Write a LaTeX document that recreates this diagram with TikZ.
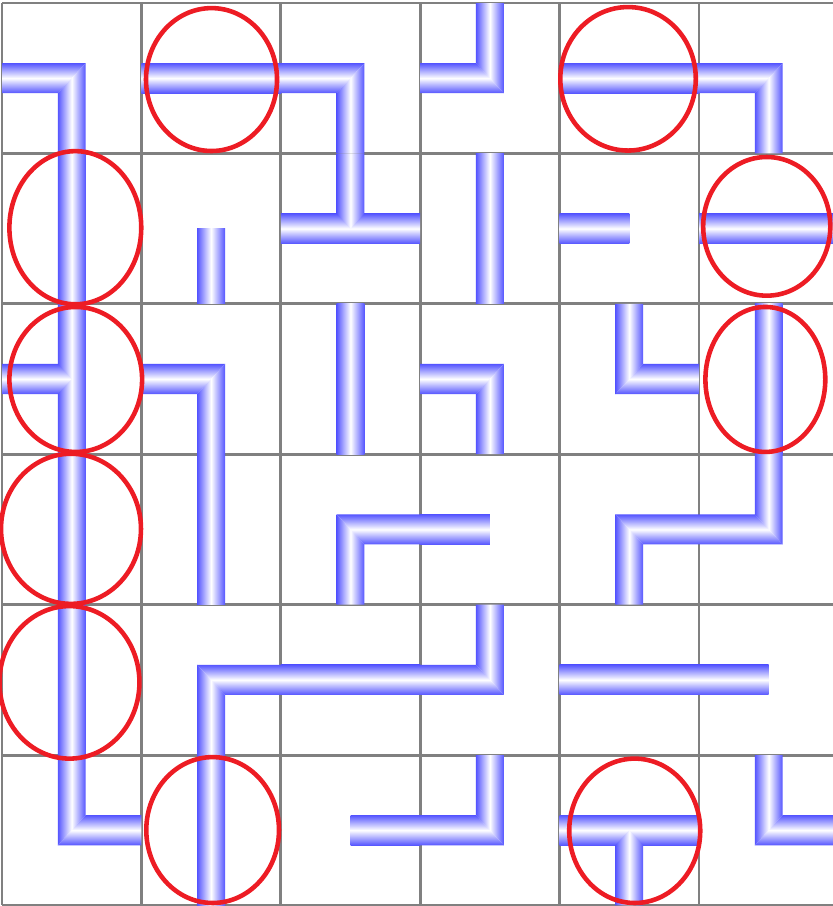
\documentclass[tikz,border=0pt]{standalone}
\definecolor{pipeblue}{RGB}{85,85,255}
\definecolor{ringred}{RGB}{237,28,36}

\begin{document}
\begin{tikzpicture}[x=2.788cm,y=-3.008cm,
  gridline/.style={draw=gray,line width=1.7pt},
  hpipe/.style={top color=pipeblue,bottom color=pipeblue,middle color=white},
  vpipe/.style={left color=pipeblue,right color=pipeblue,middle color=white},
  ring/.style={draw=ringred,line width=2.6pt}]
\def\w{0.1}
\def\WE#1#2{\shade[hpipe] (#1,#2+.5-\w) rectangle (#1+1,#2+.5+\w);}
\def\NS#1#2{\shade[vpipe] (#1+.5-\w,#2) rectangle (#1+.5+\w,#2+1);}
\def\stubW#1#2{\shade[hpipe] (#1,#2+.5-\w) rectangle (#1+.5,#2+.5+\w);}
\def\stubE#1#2{\shade[hpipe] (#1+.5,#2+.5-\w) rectangle (#1+1,#2+.5+\w);}
\def\stubS#1#2{\shade[vpipe] (#1+.5-\w,#2+.5) rectangle (#1+.5+\w,#2+1);}
\def\elbowWS#1#2{
  \shade[hpipe] (#1,#2+.5-\w) -- (#1+.5+\w,#2+.5-\w) -- (#1+.5-\w,#2+.5+\w) -- (#1,#2+.5+\w) -- cycle;
  \shade[vpipe] (#1+.5-\w,#2+1) -- (#1+.5-\w,#2+.5+\w) -- (#1+.5+\w,#2+.5-\w) -- (#1+.5+\w,#2+1) -- cycle;}
\def\elbowWN#1#2{
  \shade[hpipe] (#1,#2+.5-\w) -- (#1+.5-\w,#2+.5-\w) -- (#1+.5+\w,#2+.5+\w) -- (#1,#2+.5+\w) -- cycle;
  \shade[vpipe] (#1+.5-\w,#2) -- (#1+.5-\w,#2+.5-\w) -- (#1+.5+\w,#2+.5+\w) -- (#1+.5+\w,#2) -- cycle;}
\def\elbowES#1#2{
  \shade[hpipe] (#1+1,#2+.5-\w) -- (#1+.5-\w,#2+.5-\w) -- (#1+.5+\w,#2+.5+\w) -- (#1+1,#2+.5+\w) -- cycle;
  \shade[vpipe] (#1+.5-\w,#2+1) -- (#1+.5-\w,#2+.5-\w) -- (#1+.5+\w,#2+.5+\w) -- (#1+.5+\w,#2+1) -- cycle;}
\def\elbowEN#1#2{
  \shade[hpipe] (#1+1,#2+.5-\w) -- (#1+.5+\w,#2+.5-\w) -- (#1+.5-\w,#2+.5+\w) -- (#1+1,#2+.5+\w) -- cycle;
  \shade[vpipe] (#1+.5-\w,#2) -- (#1+.5-\w,#2+.5+\w) -- (#1+.5+\w,#2+.5-\w) -- (#1+.5+\w,#2) -- cycle;}
\def\teeN#1#2{\WE{#1}{#2}
  \shade[vpipe] (#1+.5-\w,#2) -- (#1+.5-\w,#2+.5-\w) -- (#1+.5,#2+.5) -- (#1+.5+\w,#2+.5-\w) -- (#1+.5+\w,#2) -- cycle;}
\def\teeS#1#2{\WE{#1}{#2}
  \shade[vpipe] (#1+.5-\w,#2+1) -- (#1+.5-\w,#2+.5+\w) -- (#1+.5,#2+.5) -- (#1+.5+\w,#2+.5+\w) -- (#1+.5+\w,#2+1) -- cycle;}
\def\teeW#1#2{\NS{#1}{#2}
  \shade[hpipe] (#1,#2+.5-\w) -- (#1+.5-\w,#2+.5-\w) -- (#1+.5,#2+.5) -- (#1+.5-\w,#2+.5+\w) -- (#1,#2+.5+\w) -- cycle;}

\clip (-0.01435,-0.01995) rectangle (5.9613,6.004);

\draw[gridline] (0,0) -- (6,0) (0,1) -- (6,1) (0,2) -- (6,2) (0,3) -- (6,3)
  (0,4) -- (6,4) (0,5) -- (6,5) (0,6) -- (6,6);
\draw[gridline] (0,0) -- (0,6) (1,0) -- (1,6) (2,0) -- (2,6) (3,0) -- (3,6)
  (4,0) -- (4,6) (5,0) -- (5,6) (6,0) -- (6,6);

\elbowWS{0}{0} \WE{1}{0} \elbowWS{2}{0} \elbowWN{3}{0} \WE{4}{0} \elbowWS{5}{0}
\NS{0}{1} \stubS{1}{1} \teeN{2}{1} \NS{3}{1} \stubW{4}{1} \WE{5}{1}
\teeW{0}{2} \elbowWS{1}{2} \NS{2}{2} \elbowWS{3}{2} \elbowEN{4}{2} \NS{5}{2}
\NS{0}{3} \NS{1}{3} \elbowES{2}{3} \stubW{3}{3} \elbowES{4}{3} \elbowWN{5}{3}
\NS{0}{4} \elbowES{1}{4} \WE{2}{4} \elbowWN{3}{4} \WE{4}{4} \stubW{5}{4}
\elbowEN{0}{5} \NS{1}{5} \stubE{2}{5} \elbowWN{3}{5} \teeS{4}{5} \elbowEN{5}{5}

\draw[ring] (1.503,0.509) ellipse [x radius=0.470,y radius=0.475];
\draw[ring] (4.491,0.504) ellipse [x radius=0.486,y radius=0.477];
\draw[ring] (0.526,1.494) ellipse [x radius=0.473,y radius=0.509];
\draw[ring] (5.486,1.485) ellipse [x radius=0.456,y radius=0.461];
\draw[ring] (0.529,2.503) ellipse [x radius=0.476,y radius=0.482];
\draw[ring] (5.476,2.503) ellipse [x radius=0.430,y radius=0.482];
\draw[ring] (0.495,3.496) ellipse [x radius=0.502,y radius=0.499];
\draw[ring] (0.484,4.517) ellipse [x radius=0.502,y radius=0.507];
\draw[ring] (1.511,5.499) ellipse [x radius=0.476,y radius=0.485];
\draw[ring] (4.539,5.504) ellipse [x radius=0.470,y radius=0.480];
\end{tikzpicture}
\end{document}
